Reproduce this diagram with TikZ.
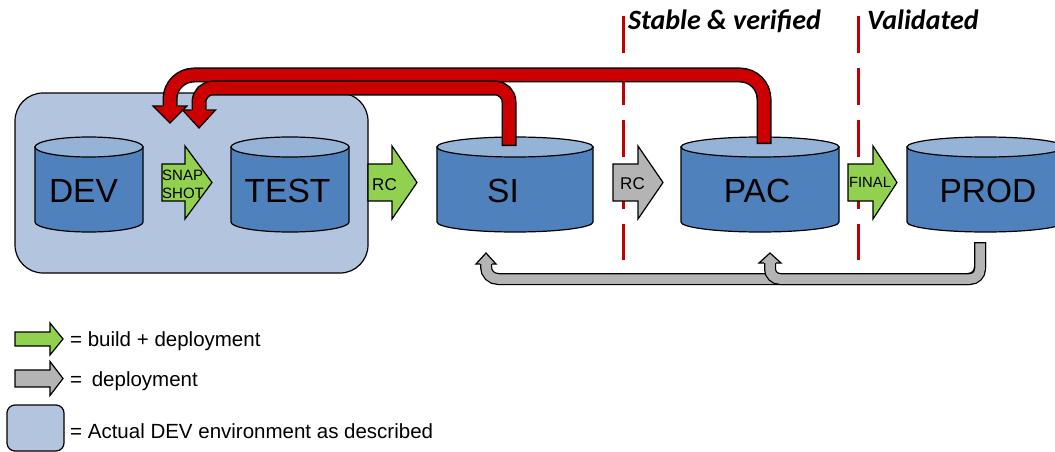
\documentclass[tikz,border=0pt]{standalone}
\usepackage{fontspec}
\setmainfont{Liberation Sans}
\newfontfamily\calibfont{Carlito}

\definecolor{envfill}{HTML}{B3C4DE}
\definecolor{dbbody}{HTML}{4F81BD}
\definecolor{dbtop}{HTML}{95B3D7}
\definecolor{buildgreen}{HTML}{92D050}
\definecolor{deploygray}{HTML}{B4B4B4}
\definecolor{flowred}{HTML}{CC0000}
\definecolor{gatered}{HTML}{C00000}

% database drum drawn around an (invisible) node: #1 node, #2 half width
\newcommand\drawdrum[2]{%
  \draw[drumline, fill=dbbody] ([yshift=-10pt]#1.north west) -- ([yshift=10pt]#1.south west)
    arc[start angle=180, end angle=360, x radius=#2pt, y radius=10pt]
    -- ([yshift=-10pt]#1.north east) -- cycle;
  \draw[drumline, fill=dbtop] ([yshift=-10pt]#1.north) ellipse[x radius=#2pt, y radius=10pt];
}

% block arrow around a body node: #1 body, #2 fill, #3 head length, #4 head overhang
\newcommand\blockarrow[4]{%
  \draw[arrowline, fill=#2] (#1.south west) -- (#1.north west) -- (#1.north east)
    -- ([yshift=#4pt]#1.north east) -- ([xshift=#3pt]#1.east)
    -- ([yshift=-#4pt]#1.south east) -- (#1.south east) -- cycle;
}

% fat arrow head at the end of a band: #1 tip, #2 base offset, #3 half width, #4 band half width, #5 fill
\newcommand\fathead[5]{%
  \fill[#5] ([shift={(-#3,#2)}]#1) -- (#1) -- ([shift={(#3,#2)}]#1) -- cycle;
  \draw[arrowline] ([shift={(-#4,#2)}]#1) -- ([shift={(-#3,#2)}]#1) -- (#1)
    -- ([shift={(#3,#2)}]#1) -- ([shift={(#4,#2)}]#1);
}

\begin{document}
\begin{tikzpicture}[x=1pt, y=1pt,
  drumline/.style={draw=black, line width=1.2pt},
  arrowline/.style={draw=black, line width=1.2pt, line join=miter},
  drum/.style={rectangle, inner sep=0pt, outer sep=0pt, minimum height=95pt},
  abody/.style={rectangle, inner sep=0pt, outer sep=0pt},
  envbox/.style={rectangle, draw=black, line width=1.2pt, fill=envfill, rounded corners=28pt, inner sep=0pt, outer sep=0pt},
  gate/.style={draw=gatered, line width=3pt, dash pattern=on 37pt off 15pt},
  title/.style={font=\calibfont\bfseries\itshape\fontsize{28}{32}\selectfont, inner sep=0pt},
  dbtext/.style={font=\fontsize{33.5}{38}\selectfont, inner sep=0pt, anchor=base},
  arrtext/.style={inner sep=0pt, anchor=base},
  legtext/.style={font=\fontsize{20.5}{24}\selectfont, inner sep=0pt, anchor=base west},
  redouter/.style={draw=black, line width=15pt},
  redinner/.style={draw=flowred, line width=12pt, shorten <=1.5pt},
  grayouter/.style={draw=black, line width=12pt},
  grayinner/.style={draw=deploygray, line width=9.5pt, shorten <=1.25pt},
]
\useasboundingbox (0,0) rectangle (1055,-452);

% quality gates
\draw[gate] (623,-16) -- (623,-260);
\draw[gate] (858,-16) -- (858,-260);
\node[title, anchor=base west] (stable) at (628,-30) {Stable \& verified};
\node[title, anchor=base west] (valid) at (867,-30) {Validated};

% development environment
\node[envbox, minimum width=353pt, minimum height=180pt] (devenv) at (191.5,-183) {};

% databases
\node[drum, minimum width=108pt] (dev) at (89,-184.5) {};
\node[drum, minimum width=118pt] (test) at (290,-184.5) {};
\node[drum, minimum width=156pt] (si) at (515,-184.5) {};
\node[drum, minimum width=158pt] (pac) at (760,-184.5) {};
\node[drum, minimum width=157pt] (prod) at (985.5,-184.5) {};
\drawdrum{dev}{54}
\drawdrum{test}{59}
\drawdrum{si}{78}
\drawdrum{pac}{79}
\drawdrum{prod}{78.5}
\node[dbtext] (devlbl) at (83.5,-202) {DEV};
\node[dbtext] (testlbl) at (287.5,-202) {TEST};
\node[dbtext] (silbl) at (503,-202) {SI};
\node[dbtext] (paclbl) at (757,-202) {PAC};
\node[dbtext] (prodlbl) at (988,-202) {PROD};

% promotion arrows
\node[abody, minimum width=23pt, minimum height=37pt] (snap) at (173.5,-182.5) {};
\blockarrow{snap}{buildgreen}{27}{18}
\node[abody, minimum width=24pt, minimum height=37pt] (rcbuild) at (380,-182.5) {};
\blockarrow{rcbuild}{buildgreen}{25}{18}
\node[abody, minimum width=25pt, minimum height=37pt] (rcdeploy) at (625.5,-182.5) {};
\blockarrow{rcdeploy}{deploygray}{25}{18}
\node[abody, minimum width=25pt, minimum height=37pt] (final) at (860.5,-182.5) {};
\blockarrow{final}{buildgreen}{24}{18}

\node[inner sep=0pt, anchor=base west, font=\fontsize{15}{18}\selectfont] (snaptxt) at (162,-180) {SNAP};
\node[inner sep=0pt, anchor=base west, font=\fontsize{15}{18}\selectfont] (shottxt) at (162,-198) {SHOT};
\node[arrtext, font=\fontsize{17}{20}\selectfont] (rcbuildtxt) at (384.5,-190) {RC};
\node[arrtext, font=\fontsize{17}{20}\selectfont] (rcdeploytxt) at (632.5,-189) {RC};
\node[arrtext, font=\fontsize{14.8}{18}\selectfont] (finaltxt) at (870,-187) {FINAL};

% feedback from SI and PAC into the development environment
\coordinate (pacsrc) at ([shift={(4,-7)}]pac.north);
\coordinate (sisrc) at ([shift={(-6,-9)}]si.north);
\coordinate (tipA) at ([shift={(-21.5,-30)}]devenv.north);
\coordinate (tipB) at ([shift={(7.5,-35)}]devenv.north);
\draw[redouter, rounded corners=24pt] (pacsrc) |- ([yshift=48pt]tipA) -- ([yshift=15pt]tipA);
\draw[redinner, rounded corners=24pt] (pacsrc) |- ([yshift=48pt]tipA) -- ([yshift=15pt]tipA);
\fathead{tipA}{17}{17}{7.5}{flowred}
\draw[redouter, rounded corners=14pt] (sisrc) |- ([yshift=40pt]tipB) -- ([yshift=16pt]tipB);
\draw[redinner, rounded corners=14pt] (sisrc) |- ([yshift=40pt]tipB) -- ([yshift=16pt]tipB);
\fathead{tipB}{18}{16.5}{7.5}{flowred}

% refresh from PROD back to SI and PAC
\coordinate (prodsrc) at ([shift={(-5.5,-10)}]prod.south);
\coordinate (tipSI) at ([shift={(-29,-21)}]si.south);
\coordinate (tipPAC) at ([shift={(10,-21)}]pac.south);
\draw[grayouter, rounded corners=12pt] (prodsrc) |- ([yshift=-26pt]tipSI) -- ([yshift=-9pt]tipSI);
\draw[grayinner, rounded corners=12pt] (prodsrc) |- ([yshift=-26pt]tipSI) -- ([yshift=-9pt]tipSI);
\fathead{tipSI}{-11}{10}{6}{deploygray}
\draw[grayouter, rounded corners=10pt] (prodsrc) |- ([yshift=-26pt]tipPAC) -- ([yshift=-8pt]tipPAC);
\draw[grayinner, rounded corners=10pt] (prodsrc) |- ([yshift=-26pt]tipPAC) -- ([yshift=-8pt]tipPAC);
\fathead{tipPAC}{-10}{11}{6}{deploygray}

% legend
\node[abody, minimum width=35pt, minimum height=14pt] (legbuild) at (32.5,-339) {};
\blockarrow{legbuild}{buildgreen}{13}{9}
\node[abody, minimum width=35pt, minimum height=17pt] (legdeploy) at (32.5,-378.5) {};
\blockarrow{legdeploy}{deploygray}{13}{8.5}
\node[envbox, rounded corners=8pt, minimum width=57pt, minimum height=46pt] (legenv) at (35.5,-428) {};
\node[legtext] (legbuildtxt) at (70,-346) {= build + deployment};
\node[legtext] (legdeploytxt) at (70,-386) {=\hspace{4pt} deployment};
\node[legtext] (legenvtxt) at (70,-438) {= Actual DEV environment as described};
\end{tikzpicture}
\end{document}
